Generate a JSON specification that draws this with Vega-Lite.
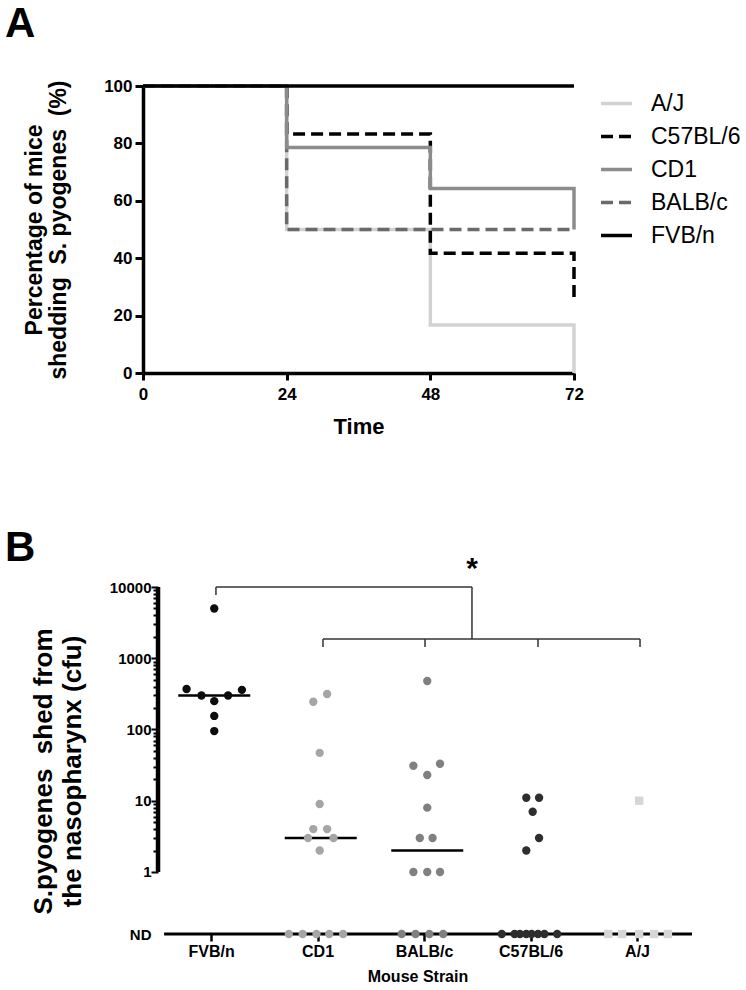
{
  "$schema": "https://vega.github.io/schema/vega-lite/v6.json",
  "padding": {"left": 5, "top": 3, "right": 5, "bottom": 5},
  "bounds": "flush",
  "spacing": 214,
  "config": {
    "font": "Liberation Sans",
    "view": {"stroke": null},
    "axis": {"grid": false, "labelColor": "black", "titleColor": "black", "domainColor": "black", "tickColor": "black", "labelFontWeight": "bold", "titleFontWeight": "bold", "labelFont": "Liberation Sans", "titleFont": "Liberation Sans", "labelFlush": false},
    "legend": {"labelFont": "Liberation Sans"},
    "title": {"font": "Liberation Sans", "color": "black"}
  },
  "datasets": {
    "km": [
      {"strain": "A/J", "time": 0, "pct": 100}, {"strain": "A/J", "time": 24, "pct": 50}, {"strain": "A/J", "time": 48, "pct": 16.7}, {"strain": "A/J", "time": 72, "pct": 0},
      {"strain": "BALB/c", "time": 0, "pct": 100}, {"strain": "BALB/c", "time": 24, "pct": 50}, {"strain": "BALB/c", "time": 48, "pct": 50}, {"strain": "BALB/c", "time": 72, "pct": 50},
      {"strain": "C57BL/6", "time": 0, "pct": 100}, {"strain": "C57BL/6", "time": 24, "pct": 83.3}, {"strain": "C57BL/6", "time": 48, "pct": 41.7}, {"strain": "C57BL/6", "time": 72, "pct": 25},
      {"strain": "CD1", "time": 0, "pct": 100}, {"strain": "CD1", "time": 24, "pct": 78.6}, {"strain": "CD1", "time": 48, "pct": 64.3}, {"strain": "CD1", "time": 72, "pct": 50},
      {"strain": "FVB/n", "time": 0, "pct": 100}, {"strain": "FVB/n", "time": 24, "pct": 100}, {"strain": "FVB/n", "time": 48, "pct": 100}, {"strain": "FVB/n", "time": 72, "pct": 100}
    ],
    "cfu": [
      {"strain": "FVB/n", "pos": 1.03, "cfu": 5000}, {"strain": "FVB/n", "pos": 0.77, "cfu": 370}, {"strain": "FVB/n", "pos": 0.91, "cfu": 300}, {"strain": "FVB/n", "pos": 1.03, "cfu": 250},
      {"strain": "FVB/n", "pos": 1.16, "cfu": 300}, {"strain": "FVB/n", "pos": 1.29, "cfu": 360}, {"strain": "FVB/n", "pos": 1.03, "cfu": 155}, {"strain": "FVB/n", "pos": 1.03, "cfu": 95},
      {"strain": "CD1", "pos": 1.96, "cfu": 245}, {"strain": "CD1", "pos": 2.09, "cfu": 315}, {"strain": "CD1", "pos": 2.02, "cfu": 47}, {"strain": "CD1", "pos": 2.02, "cfu": 9},
      {"strain": "CD1", "pos": 1.96, "cfu": 4}, {"strain": "CD1", "pos": 2.09, "cfu": 4}, {"strain": "CD1", "pos": 1.91, "cfu": 3}, {"strain": "CD1", "pos": 2.15, "cfu": 3}, {"strain": "CD1", "pos": 2.02, "cfu": 2},
      {"strain": "BALB/c", "pos": 3.03, "cfu": 480}, {"strain": "BALB/c", "pos": 2.9, "cfu": 31}, {"strain": "BALB/c", "pos": 3.15, "cfu": 33}, {"strain": "BALB/c", "pos": 3.03, "cfu": 23},
      {"strain": "BALB/c", "pos": 3.03, "cfu": 8}, {"strain": "BALB/c", "pos": 2.96, "cfu": 3}, {"strain": "BALB/c", "pos": 3.08, "cfu": 3},
      {"strain": "BALB/c", "pos": 2.9, "cfu": 1}, {"strain": "BALB/c", "pos": 3.03, "cfu": 1}, {"strain": "BALB/c", "pos": 3.15, "cfu": 1},
      {"strain": "C57BL/6", "pos": 3.96, "cfu": 11}, {"strain": "C57BL/6", "pos": 4.08, "cfu": 11}, {"strain": "C57BL/6", "pos": 4.02, "cfu": 7}, {"strain": "C57BL/6", "pos": 4.08, "cfu": 3}, {"strain": "C57BL/6", "pos": 3.96, "cfu": 2},
      {"strain": "A/J", "pos": 5.02, "cfu": 10}
    ],
    "nd": [
      {"strain": "CD1", "pos": 1.73}, {"strain": "CD1", "pos": 1.86}, {"strain": "CD1", "pos": 1.99}, {"strain": "CD1", "pos": 2.11}, {"strain": "CD1", "pos": 2.24},
      {"strain": "BALB/c", "pos": 2.79}, {"strain": "BALB/c", "pos": 2.92}, {"strain": "BALB/c", "pos": 3.05}, {"strain": "BALB/c", "pos": 3.18},
      {"strain": "C57BL/6", "pos": 3.73}, {"strain": "C57BL/6", "pos": 3.85}, {"strain": "C57BL/6", "pos": 3.9}, {"strain": "C57BL/6", "pos": 3.96},
      {"strain": "C57BL/6", "pos": 4.01}, {"strain": "C57BL/6", "pos": 4.07}, {"strain": "C57BL/6", "pos": 4.13}, {"strain": "C57BL/6", "pos": 4.25},
      {"strain": "A/J", "pos": 4.73}, {"strain": "A/J", "pos": 4.86}, {"strain": "A/J", "pos": 5.02}, {"strain": "A/J", "pos": 5.16}, {"strain": "A/J", "pos": 5.29}
    ],
    "med": [
      {"strain": "FVB/n", "pos": 1.03, "cfu": 300},
      {"strain": "CD1", "pos": 2.03, "cfu": 3},
      {"strain": "BALB/c", "pos": 3.03, "cfu": 2}
    ],
    "brk": [
      {"part": "axis", "pos": 0.502, "pos2": 0.502, "cfu": 1, "cfu2": 10000},
      {"part": "bracket", "pos": 1.046, "pos2": 3.45, "cfu": 10000, "cfu2": 10000},
      {"part": "bracket", "pos": 1.046, "pos2": 1.046, "cfu": 10000, "cfu2": 7700},
      {"part": "bracket", "pos": 3.45, "pos2": 3.45, "cfu": 10000, "cfu2": 1860},
      {"part": "bracket", "pos": 2.051, "pos2": 5.028, "cfu": 1860, "cfu2": 1860},
      {"part": "bracket", "pos": 2.051, "pos2": 2.051, "cfu": 1860, "cfu2": 1440},
      {"part": "bracket", "pos": 3.009, "pos2": 3.009, "cfu": 1860, "cfu2": 1440},
      {"part": "bracket", "pos": 4.07, "pos2": 4.07, "cfu": 1860, "cfu2": 1440},
      {"part": "bracket", "pos": 5.028, "pos2": 5.028, "cfu": 1860, "cfu2": 1440}
    ],
    "ndline": [{"pos": 0.559, "pos2": 5.516}],
    "star": [{"pos": 3.45, "cfu": 18000, "t": "*"}]
  },
  "resolve": {"scale": {"x": "independent", "y": "independent", "color": "independent", "strokeDash": "independent", "shape": "independent"}},
  "vconcat": [
    {
      "width": 431,
      "height": 287,
      "title": {"text": "A", "anchor": "start", "frame": "group", "dx": -138, "fontSize": 42, "fontWeight": "bold", "offset": 31},
      "data": {"name": "km"},
      "mark": {"type": "line", "interpolate": "step-after", "strokeWidth": 3.5},
      "encoding": {
        "x": {"field": "time", "type": "quantitative", "scale": {"domain": [0, 72], "nice": false, "zero": false},
          "axis": {"values": [0, 24, 48, 72], "title": "Time", "domainWidth": 3.5, "tickWidth": 3, "tickSize": 7, "labelFontSize": 17, "labelPadding": 6, "titleFontSize": 22, "titlePadding": 14}},
        "y": {"field": "pct", "type": "quantitative", "scale": {"domain": [0, 100], "nice": false},
          "axis": {"values": [0, 20, 40, 60, 80, 100], "title": ["Percentage of mice", "shedding\u00a0 S. pyogenes\u00a0 (%)"], "domainWidth": 3.5, "tickWidth": 3, "tickSize": 8, "labelFontSize": 17, "labelPadding": 3, "titleFontSize": 23, "titleLineHeight": 24, "titlePadding": 33}},
        "color": {"field": "strain", "type": "nominal",
          "scale": {"domain": ["A/J", "C57BL/6", "CD1", "BALB/c", "FVB/n"], "range": ["#d2d2d2", "#000000", "#8c8c8c", "#6a6a6a", "#000000"]},
          "legend": {"title": null, "orient": "right", "offset": 18, "padding": 0, "symbolType": "stroke", "symbolSize": 961, "symbolStrokeWidth": 3.5, "labelFontSize": 23, "labelFontWeight": "normal", "labelColor": "black", "labelOffset": 17, "rowPadding": 3}},
        "strokeDash": {"field": "strain", "type": "nominal",
          "scale": {"domain": ["A/J", "C57BL/6", "CD1", "BALB/c", "FVB/n"], "range": [[1, 0], [12, 6], [1, 0], [12, 6], [1, 0]]},
          "legend": {"title": null, "orient": "right", "offset": 18, "padding": 0, "symbolType": "stroke", "symbolSize": 961, "symbolStrokeWidth": 3.5, "labelFontSize": 23, "labelFontWeight": "normal", "labelColor": "black", "labelOffset": 17, "rowPadding": 3}}
      }
    },
    {
      "width": 549,
      "height": 347,
      "title": {"text": "B", "anchor": "start", "frame": "group", "dx": -138, "fontSize": 42, "fontWeight": "bold", "offset": -16},
      "encoding": {
        "x": {"field": "pos", "type": "quantitative", "scale": {"domain": [0.361, 5.516], "nice": false, "zero": false},
          "axis": {"values": [1, 2, 3, 4, 5], "labelExpr": "['', 'FVB/n', 'CD1', 'BALB/c', 'C57BL/6', 'A/J'][datum.value]", "domain": false, "tickWidth": 2.5, "tickSize": 7, "labelFontSize": 16, "labelPadding": 2, "title": "Mouse Strain", "titleFontSize": 16, "titlePadding": 9}}
      },
      "layer": [
        {
          "encoding": {
            "y": {"field": "cfu", "type": "quantitative", "scale": {"type": "log", "domain": [0.1347, 10000], "nice": false},
              "axis": {"orient": "left", "offset": -15, "domain": false,
                "values": [1, 2, 3, 4, 5, 6, 7, 8, 9, 10, 20, 30, 40, 50, 60, 70, 80, 90, 100, 200, 300, 400, 500, 600, 700, 800, 900, 1000, 2000, 3000, 4000, 5000, 6000, 7000, 8000, 9000, 10000],
                "format": "d",
                "labelExpr": "indexof([1, 10, 100, 1000, 10000], datum.value) >= 0 ? datum.label : ''",
                "tickWidth": 2,
                "tickSize": {"condition": {"test": "indexof([1, 10, 100, 1000, 10000], datum.value) >= 0", "value": 7}, "value": 5},
                "labelFontSize": 15, "labelPadding": 0,
                "title": ["S.pyogenes\u00a0 shed from", "the nasopharynx (cfu)"], "titleFontSize": 26, "titleLineHeight": 29, "titlePadding": 24, "titleY": 184}}
          },
          "layer": [
            {"data": {"name": "brk"}, "mark": {"type": "rule", "opacity": 1},
              "encoding": {
                "x2": {"field": "pos2"}, "y2": {"field": "cfu2"},
                "strokeWidth": {"condition": {"test": "datum.part === 'axis'", "value": 4.5}, "value": 1.5},
                "color": {"condition": {"test": "datum.part === 'axis'", "value": "#000000"}, "value": "#333333"}
              }},
            {"data": {"name": "star"}, "mark": {"type": "text", "fontSize": 30, "fontWeight": "bold", "baseline": "middle", "color": "black"},
              "encoding": {"text": {"field": "t"}}},
            {"data": {"name": "med"}, "mark": {"type": "tick", "orient": "horizontal", "size": 72, "thickness": 2.5, "color": "black", "opacity": 1}},
            {"data": {"name": "cfu"}, "mark": {"type": "point", "filled": true, "size": 70, "opacity": 1},
              "encoding": {
                "color": {"field": "strain", "type": "nominal", "scale": {"domain": ["FVB/n", "CD1", "BALB/c", "C57BL/6", "A/J"], "range": ["#0d0d0d", "#a5a5a5", "#808080", "#2e2e2e", "#d6d6d6"]}, "legend": null},
                "shape": {"field": "strain", "type": "nominal", "scale": {"domain": ["FVB/n", "CD1", "BALB/c", "C57BL/6", "A/J"], "range": ["circle", "circle", "circle", "circle", "square"]}, "legend": null}
              }}
          ]
        },
        {
          "encoding": {
            "y": {"datum": "ND", "type": "nominal", "scale": {"type": "point", "padding": 0, "align": 1},
              "axis": {"orient": "left", "offset": -12, "ticks": false, "tickSize": 0, "domain": false, "labelFontSize": 15, "labelPadding": 4, "title": null}}
          },
          "layer": [
            {"data": {"name": "ndline"}, "mark": {"type": "rule", "strokeWidth": 3, "color": "black"},
              "encoding": {"x2": {"field": "pos2"}}},
            {"data": {"name": "nd"}, "mark": {"type": "point", "filled": true, "size": 70, "opacity": 1},
              "encoding": {
                "color": {"field": "strain", "type": "nominal", "scale": {"domain": ["FVB/n", "CD1", "BALB/c", "C57BL/6", "A/J"], "range": ["#0d0d0d", "#a5a5a5", "#808080", "#2e2e2e", "#d6d6d6"]}, "legend": null},
                "shape": {"field": "strain", "type": "nominal", "scale": {"domain": ["FVB/n", "CD1", "BALB/c", "C57BL/6", "A/J"], "range": ["circle", "circle", "circle", "circle", "square"]}, "legend": null}
              }}
          ]
        }
      ],
      "resolve": {"scale": {"y": "independent"}, "axis": {"y": "independent"}}
    }
  ]
}
